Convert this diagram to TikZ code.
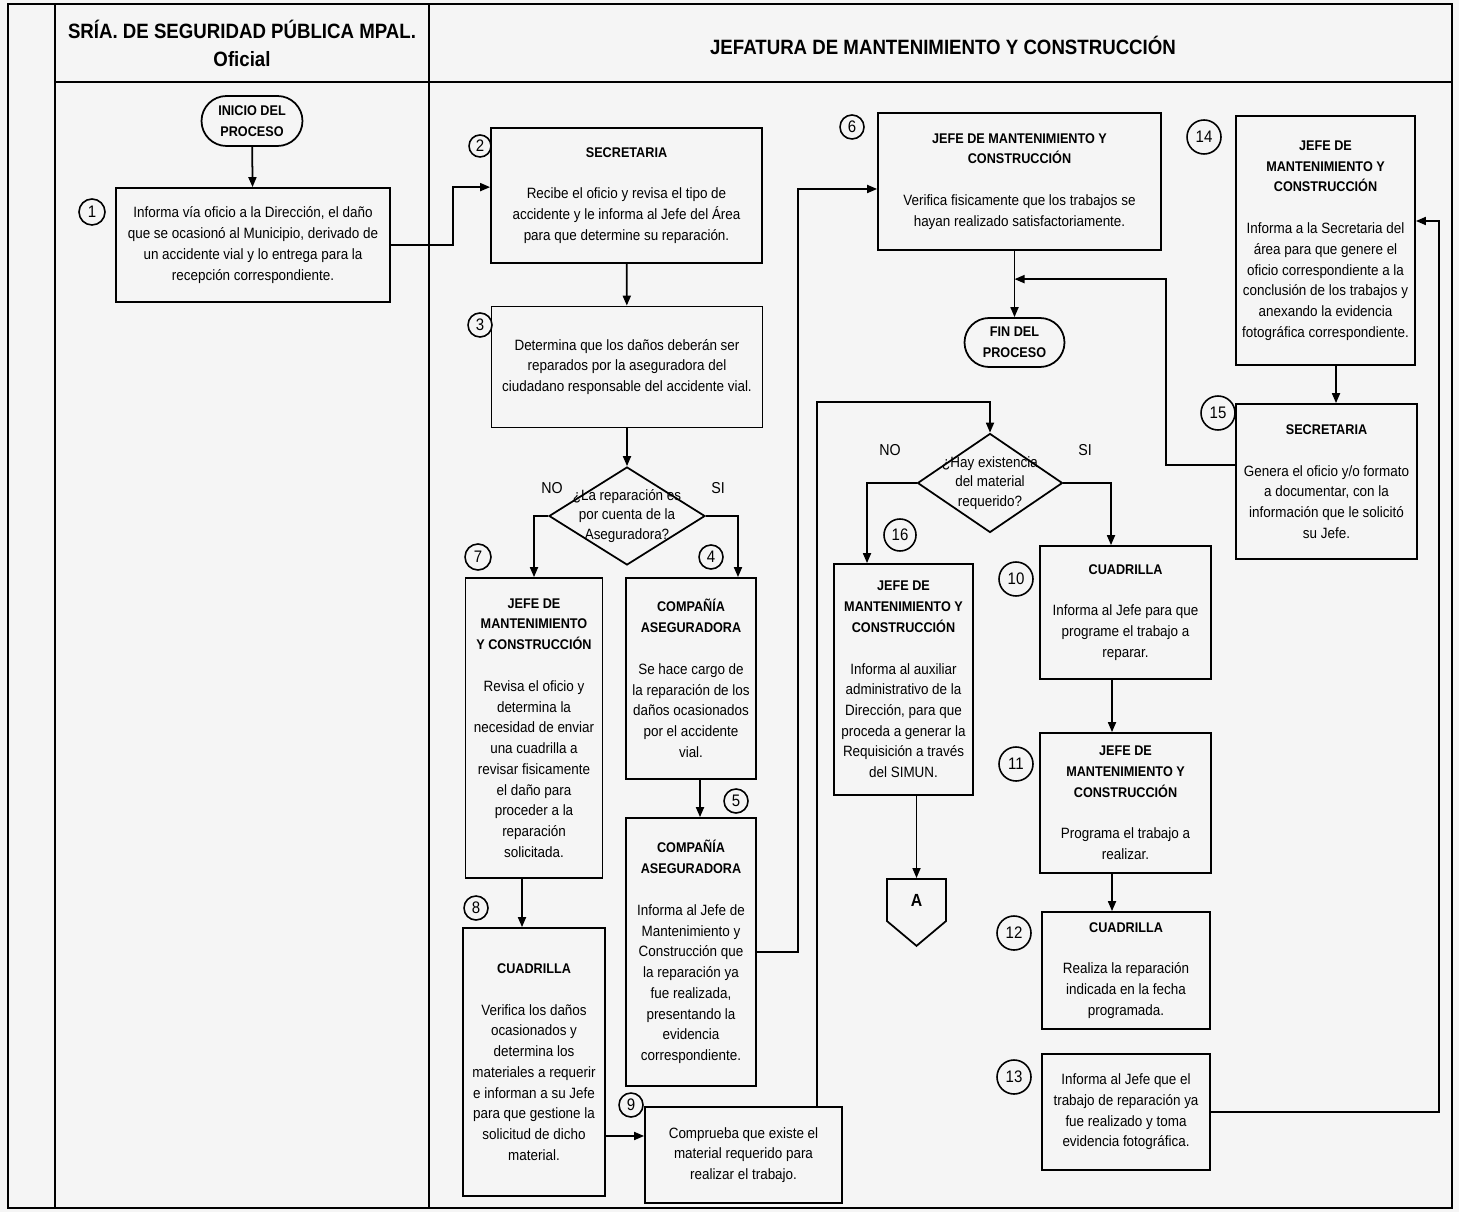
\documentclass[tikz,border=0pt]{standalone}
\usepackage{fontspec}
\setmainfont{Liberation Sans}[FakeStretch=0.9]
\usetikzlibrary{positioning,arrows.meta,shapes.geometric,shapes.misc,shapes.symbols}
\newcommand{\rol}[1]{{\fontsize{8}{11.8}\selectfont\bfseries #1}}
\tikzset{
  box/.style 2 args={draw, line width=1pt, align=center, inner sep=2pt, minimum width=#1*0.02cm, minimum height=#2*0.02cm, font=\fontsize{8.5}{11.8}\selectfont},
  term/.style 2 args={box={#1}{#2}, rounded rectangle},
  ask/.style 2 args={draw, line width=1pt, diamond, inner sep=0pt, minimum width=#1*0.02cm, minimum height=#2*0.02cm},
  asktxt/.style={align=center, inner sep=0pt, font=\fontsize{8.5}{11.2}\selectfont},
  num/.style={draw, circle, line width=0.9pt, inner sep=0pt, minimum size=#1*0.02cm, font=\fontsize{9.5}{10}\selectfont},
  num/.default=24,
  offpg/.style={draw, line width=1pt, signal, signal to=south, signal pointer angle=100, inner sep=0pt, minimum width=59*0.02cm, minimum height=47*0.02cm, font=\fontsize{10}{11}\selectfont\bfseries},
  lab/.style={font=\fontsize{9}{10}\selectfont},
  head/.style={align=center, font=\fontsize{11.8}{15.9}\selectfont\bfseries},
  frame/.style={line width=1.1pt},
  arr/.style={-{Triangle[length=2mm,width=1.6mm]}, line width=1pt},
}
\begin{document}
\begin{tikzpicture}[x=0.02cm, y=-0.02cm]
  % sheet and lanes
  \fill[black!4] (0,0) rectangle (1459,1212);
  \draw[frame] (8,4) rectangle (1452,1208);
  \draw[frame] (55,4) -- (55,1208);
  \draw[frame] (55,82) -- (1452,82);
  \draw[frame] (429,4) -- (429,1208);
  \node[head] (hssp) at (242,43) {SRÍA. DE SEGURIDAD PÚBLICA MPAL.\\Oficial};
  \node[head] (hjmc) at (943,45) {JEFATURA DE MANTENIMIENTO Y CONSTRUCCIÓN};

  % Oficial
  \node[term={108}{50}] (ini) at (252,121) {\rol{INICIO DEL}\\\rol{PROCESO}};
  \node[box={274}{114}] (b1) at (253,245) {Informa vía oficio a la Dirección, el daño\\que se ocasionó al Municipio, derivado de\\un accidente vial y lo entrega para la\\recepción correspondiente.};
  \node[num=26] (c1) at (92,212) {1};

  % Jefatura, first column
  \node[box={271}{135}] (b2) at (626.5,195.5) {\rol{SECRETARIA}\\[4.2mm]Recibe el oficio y revisa el tipo de\\accidente y le informa al Jefe del Área\\para que determine su reparación.};
  \node[num=22] (c2) at (480,146) {2};
  \node[box={271}{121}] (b3) at (627,367) {Determina que los daños deberán ser\\reparados por la aseguradora del\\ciudadano responsable del accidente vial.};
  \node[num] (c3) at (480,325) {3};
  \node[ask={156}{98}] (d1) at (627,516) {};
  \node[asktxt] (d1t) at (d1) {¿La reparación es\\por cuenta de la\\Aseguradora?};
  \node[lab] (no1) at (552,488) {NO};
  \node[lab] (si1) at (718,488) {SI};
  \node[box={137}{300}] (b7) at (534,728) {\rol{JEFE DE}\\\rol{MANTENIMIENTO}\\\rol{Y CONSTRUCCIÓN}\\[4.2mm]Revisa el oficio y\\determina la\\necesidad de enviar\\una cuadrilla a\\revisar fisicamente\\el daño para\\proceder a la\\reparación\\solicitada.};
  \node[num=26] (c7) at (478,557) {7};
  \node[box={130}{201}] (b4) at (691,678.5) {\rol{COMPAÑÍA}\\\rol{ASEGURADORA}\\[4.2mm]Se hace cargo de\\la reparación de los\\daños ocasionados\\por el accidente\\vial.};
  \node[num] (c4) at (711,557) {4};
  \node[box={130}{268}] (b5) at (691,952) {\rol{COMPAÑÍA}\\\rol{ASEGURADORA}\\[4.2mm]Informa al Jefe de\\Mantenimiento y\\Construcción que\\la reparación ya\\fue realizada,\\presentando la\\evidencia\\correspondiente.};
  \node[num] (c5) at (736,801) {5};
  \node[box={142}{268}] (b8) at (534,1062) {\rol{CUADRILLA}\\[4.2mm]Verifica los daños\\ocasionados y\\determina los\\materiales a requerir\\e informan a su Jefe\\para que gestione la\\solicitud de dicho\\material.};
  \node[num] (c8) at (476,908) {8};
  \node[box={197}{96}] (b9) at (743.5,1155) {Comprueba que existe el\\material requerido para\\realizar el trabajo.};
  \node[num] (c9) at (631,1105) {9};

  % Jefatura, second column
  \node[box={283}{137}] (b6) at (1019.5,181.5) {\rol{JEFE DE MANTENIMIENTO Y}\\\rol{CONSTRUCCIÓN}\\[4.2mm]Verifica fisicamente que los trabajos se\\hayan realizado satisfactoriamente.};
  \node[num] (c6) at (852,127) {6};
  \node[term={107}{49}] (fin) at (1014.5,342.5) {\rol{FIN DEL}\\\rol{PROCESO}};
  \node[ask={145}{99}] (d2) at (990,483) {};
  \node[asktxt] (d2t) at (d2) {¿Hay existencia\\del material\\requerido?};
  \node[lab] (no2) at (890,450) {NO};
  \node[lab] (si2) at (1085,450) {SI};
  \node[box={139}{231}] (b16) at (903.5,679.5) {\rol{JEFE DE}\\\rol{MANTENIMIENTO Y}\\\rol{CONSTRUCCIÓN}\\[4.2mm]Informa al auxiliar\\administrativo de la\\Dirección, para que\\proceda a generar la\\Requisición a través\\del SIMUN.};
  \node[num=32] (c16) at (900,535) {16};
  \node[offpg] (A) at (916.5,900) {A};

  % Jefatura, third column
  \node[box={171}{133}] (b10) at (1125.5,612.5) {\rol{CUADRILLA}\\[4.2mm]Informa al Jefe para que\\programe el trabajo a\\reparar.};
  \node[num=34] (c10) at (1016,579) {10};
  \node[box={171}{140}] (b11) at (1125.5,803) {\rol{JEFE DE}\\\rol{MANTENIMIENTO Y}\\\rol{CONSTRUCCIÓN}\\[4.2mm]Programa el trabajo a\\realizar.};
  \node[num=34] (c11) at (1016,764) {11};
  \node[box={168}{117}] (b12) at (1126,970.5) {\rol{CUADRILLA}\\[4.2mm]Realiza la reparación\\indicada en la fecha\\programada.};
  \node[num=34] (c12) at (1014,933) {12};
  \node[box={168}{116}] (b13) at (1126,1112) {Informa al Jefe que el\\trabajo de reparación ya\\fue realizado y toma\\evidencia fotográfica.};
  \node[num=34] (c13) at (1014,1077) {13};

  % Jefatura, fourth column
  \node[box={179}{249}] (b14) at (1325.5,240.5) {\rol{JEFE DE}\\\rol{MANTENIMIENTO Y}\\\rol{CONSTRUCCIÓN}\\[4.2mm]Informa a la Secretaria del\\área para que genere el\\oficio correspondiente a la\\conclusión de los trabajos y\\anexando la evidencia\\fotográfica correspondiente.};
  \node[num=34] (c14) at (1204,137) {14};
  \node[box={181}{155}] (b15) at (1326.5,481.5) {\rol{SECRETARIA}\\[4.2mm]Genera el oficio y/o formato\\a documentar, con la\\información que le solicitó\\su Jefe.};
  \node[num=34] (c15) at (1218,413) {15};

  % connectors
  \coordinate (p89) at ([yshift=-1.48cm]b8.east);
  \coordinate (mrg) at ([yshift=0.76cm]fin.north);
  \draw[arr] (ini) -- (b1);
  \draw[arr] (b1.east) -- ++(62,0) |- (b2.west |- b1.north);
  \draw[arr] (b2) -- (b3);
  \draw[arr] (b3) -- (d1);
  \draw[arr] (d1.west) -| (b7.north);
  \draw[arr] (d1.east) -| ([xshift=0.94cm]b4.north);
  \draw[arr] ([xshift=0.18cm]b4.south) -- ([xshift=0.18cm]b5.north);
  \draw[arr] ([xshift=-0.24cm]b7.south) -- ([xshift=-0.24cm]b8.north);
  \draw[arr] (p89) -- (p89 -| b9.west);
  \draw[arr] (b5.east) -- ++(41,0) |- ([yshift=-0.15cm]b6.west);
  \draw[arr] ([xshift=1.47cm]b9.north) |- ([yshift=0.62cm]d2.north) -- (d2.north);
  \draw[arr] (d2.west) -| ([xshift=-0.73cm]b16.north);
  \draw[arr] (d2.east) -| ([xshift=-0.29cm]b10.north);
  \draw[arr] (b16.south -| A.north) -- (A.north);
  \draw[arr] ([xshift=-0.27cm]b10.south) -- ([xshift=-0.27cm]b11.north);
  \draw[arr] ([xshift=-0.27cm]b11.south) -- ([xshift=-0.28cm]b12.north);
  \draw[arr] (b13.east) -- ++(228,0) |- ([yshift=0.39cm]b14.east);
  \draw[arr] ([xshift=0.21cm]b14.south) -- ([xshift=0.19cm]b15.north);
  \draw[arr] (b6.south -| fin.north) -- (fin.north);
  \draw[arr] ([yshift=0.33cm]b15.west) -- ++(-69,0) |- (mrg);
\end{tikzpicture}
\end{document}
